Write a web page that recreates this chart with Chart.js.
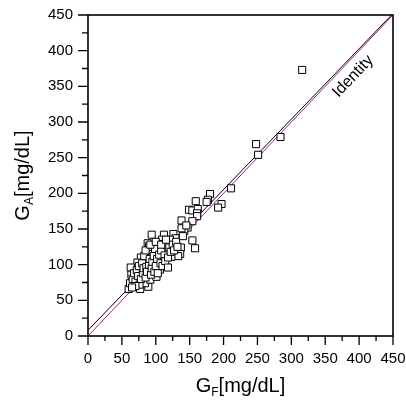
<!DOCTYPE html>
<html>
<head>
<meta charset="utf-8">
<script src="https://cdn.jsdelivr.net/npm/chart.js@4/dist/chart.umd.min.js"></script>
<style>
  html, body { margin: 0; padding: 0; background: #fff; }
  #wrap { width: 406px; height: 407px; }
</style>
</head>
<body>
<div id="wrap"><canvas id="chart"></canvas></div>
<script>
// measured glucose G_F (x) against estimated G_A (y), mg/dL
const gF = [316, 284, 248, 251, 211, 180, 177, 175, 197, 192, 159, 149, 154, 162, 161, 161, 154, 138, 147, 142,
            138, 154, 158, 137, 136, 126, 129, 121, 112, 109, 94, 88, 90, 104, 101, 112, 117, 133, 123, 90,
            95, 88, 78, 73, 63, 60, 62, 77, 64, 79, 87, 101, 89, 84, 106, 111, 96, 92, 101, 66,
            68, 70, 72, 74, 75, 76, 78, 80, 81, 82, 83, 85, 86, 87, 90, 91, 93, 94, 95, 97,
            98, 99, 100, 102, 103, 105, 107, 108, 110, 113, 114, 116, 118, 120, 122, 125, 127, 130, 132, 118,
            70, 65, 85, 92, 100, 108, 115, 140, 145];
const gA = [373, 279, 269, 254, 207, 199, 191, 188, 185, 180, 189, 177, 176, 178, 172, 168, 161, 162, 152, 147,
            151, 134, 123, 124, 115, 143, 137, 135, 142, 135, 142, 130, 126, 129, 121, 123, 118, 112, 111, 118,
            115, 106, 110, 103, 96, 66, 74, 66, 86, 93, 109, 116, 69, 74, 93, 107, 100, 79, 83, 80,
            88, 76, 92, 84, 98, 72, 80, 102, 88, 95, 112, 82, 97, 90, 100, 108, 86, 95, 104, 112,
            90, 122, 98, 108, 88, 114, 102, 120, 98, 113, 105, 128, 110, 124, 118, 128, 120, 132, 125, 96,
            70, 68, 120, 128, 132, 128, 135, 140, 155];

// fitted line and identity line end points
const fitX = [0, 450];
const fitY = [8, 452];
const identityX = [0, 450];
const identityY = [0, 450];

const majorTicks = [0, 50, 100, 150, 200, 250, 300, 350, 400, 450];
const minorTicks = [25, 75, 125, 175, 225, 275, 325, 375, 425];

const FONT = "'Liberation Sans', Arial, sans-serif";
const PURPLE = '#9a1f9a';

const toPoints = (xs, ys) => xs.map((v, i) => ({ x: v, y: ys[i] }));

// draws a title like G<sub>A</sub>[mg/dL], centred on (0,0) of the current transform
function drawSubTitle(ctx, main, sub, rest, size) {
  const big = size + 'px ' + FONT;
  const small = Math.round(size * 0.62) + 'px ' + FONT;
  ctx.font = big;
  const w1 = ctx.measureText(main).width;
  const w3 = ctx.measureText(rest).width;
  ctx.font = small;
  const w2 = ctx.measureText(sub).width;
  let x = -(w1 + w2 + w3) / 2;
  ctx.textAlign = 'left';
  ctx.textBaseline = 'alphabetic';
  ctx.font = big;
  ctx.fillText(main, x, 0);
  x += w1;
  ctx.font = small;
  ctx.fillText(sub, x, size * 0.22);
  x += w2;
  ctx.font = big;
  ctx.fillText(rest, x, 0);
}

const decor = {
  id: 'decor',
  afterDraw(chart) {
    const { ctx, chartArea: a, scales: { x, y } } = chart;
    ctx.save();
    ctx.strokeStyle = '#000';
    ctx.fillStyle = '#000';

    // frame
    ctx.lineWidth = 1.6;
    ctx.strokeRect(a.left, a.top, a.right - a.left, a.bottom - a.top);

    // major + minor tick marks, outside
    ctx.lineWidth = 1.3;
    ctx.beginPath();
    majorTicks.forEach(v => {
      const px = x.getPixelForValue(v);
      ctx.moveTo(px, a.bottom);
      ctx.lineTo(px, a.bottom + 9);
      const py = y.getPixelForValue(v);
      ctx.moveTo(a.left, py);
      ctx.lineTo(a.left - 10, py);
    });
    minorTicks.forEach(v => {
      const px = x.getPixelForValue(v);
      ctx.moveTo(px, a.bottom);
      ctx.lineTo(px, a.bottom + 5);
      const py = y.getPixelForValue(v);
      ctx.moveTo(a.left, py);
      ctx.lineTo(a.left - 6, py);
    });
    ctx.stroke();

    // "Identity" label along the identity line
    const ang = Math.atan2(y.getPixelForValue(450) - y.getPixelForValue(0),
                           x.getPixelForValue(450) - x.getPixelForValue(0));
    ctx.save();
    ctx.translate(x.getPixelForValue(391), y.getPixelForValue(364));
    ctx.rotate(ang);
    ctx.font = '16px ' + FONT;
    ctx.textAlign = 'center';
    ctx.textBaseline = 'middle';
    ctx.fillText('Identity', 0, 0);
    ctx.restore();

    // axis titles
    ctx.save();
    ctx.translate((a.left + a.right) / 2, 392);
    drawSubTitle(ctx, 'G', 'F', '[mg/dL]', 20);
    ctx.restore();

    ctx.save();
    ctx.translate(29, (a.top + a.bottom) / 2);
    ctx.rotate(-Math.PI / 2);
    drawSubTitle(ctx, 'G', 'A', '[mg/dL]', 20);
    ctx.restore();

    ctx.restore();
  }
};

new Chart(document.getElementById('chart'), {
  type: 'scatter',
  data: {
    datasets: [
      {
        label: 'data',
        data: toPoints(gF, gA),
        pointStyle: 'rect',
        pointRadius: 5,
        pointBorderWidth: 1,
        pointBorderColor: '#000',
        pointBackgroundColor: '#fff',
        showLine: false
      },
      {
        label: 'fit',
        data: toPoints(fitX, fitY),
        showLine: true,
        borderColor: '#000',
        borderWidth: 1,
        pointRadius: 0
      },
      {
        label: 'identity',
        data: toPoints(identityX, identityY),
        showLine: true,
        borderColor: PURPLE,
        borderWidth: 1,
        pointRadius: 0
      }
    ]
  },
  options: {
    responsive: true,
    maintainAspectRatio: false,
    animation: false,
    layout: { padding: { left: 0, right: 13, top: 15, bottom: 0 } },
    plugins: {
      legend: { display: false },
      tooltip: { enabled: false }
    },
    scales: {
      x: {
        type: 'linear',
        min: 0,
        max: 450,
        grid: { display: false, drawTicks: false },
        border: { display: false },
        ticks: {
          stepSize: 50,
          padding: 14,
          color: '#000',
          font: { family: FONT, size: 15 }
        },
        afterFit(scale) {
          scale.height = 71;
          scale.paddingLeft = 0;
          scale.paddingRight = 0;
        }
      },
      y: {
        type: 'linear',
        min: 0,
        max: 450,
        grid: { display: false, drawTicks: false },
        border: { display: false },
        ticks: {
          stepSize: 50,
          padding: 15,
          color: '#000',
          font: { family: FONT, size: 15 }
        },
        afterFit(scale) {
          scale.width = 88;
          scale.paddingTop = 0;
          scale.paddingBottom = 0;
        }
      }
    }
  },
  plugins: [decor]
});
</script>
</body>
</html>
